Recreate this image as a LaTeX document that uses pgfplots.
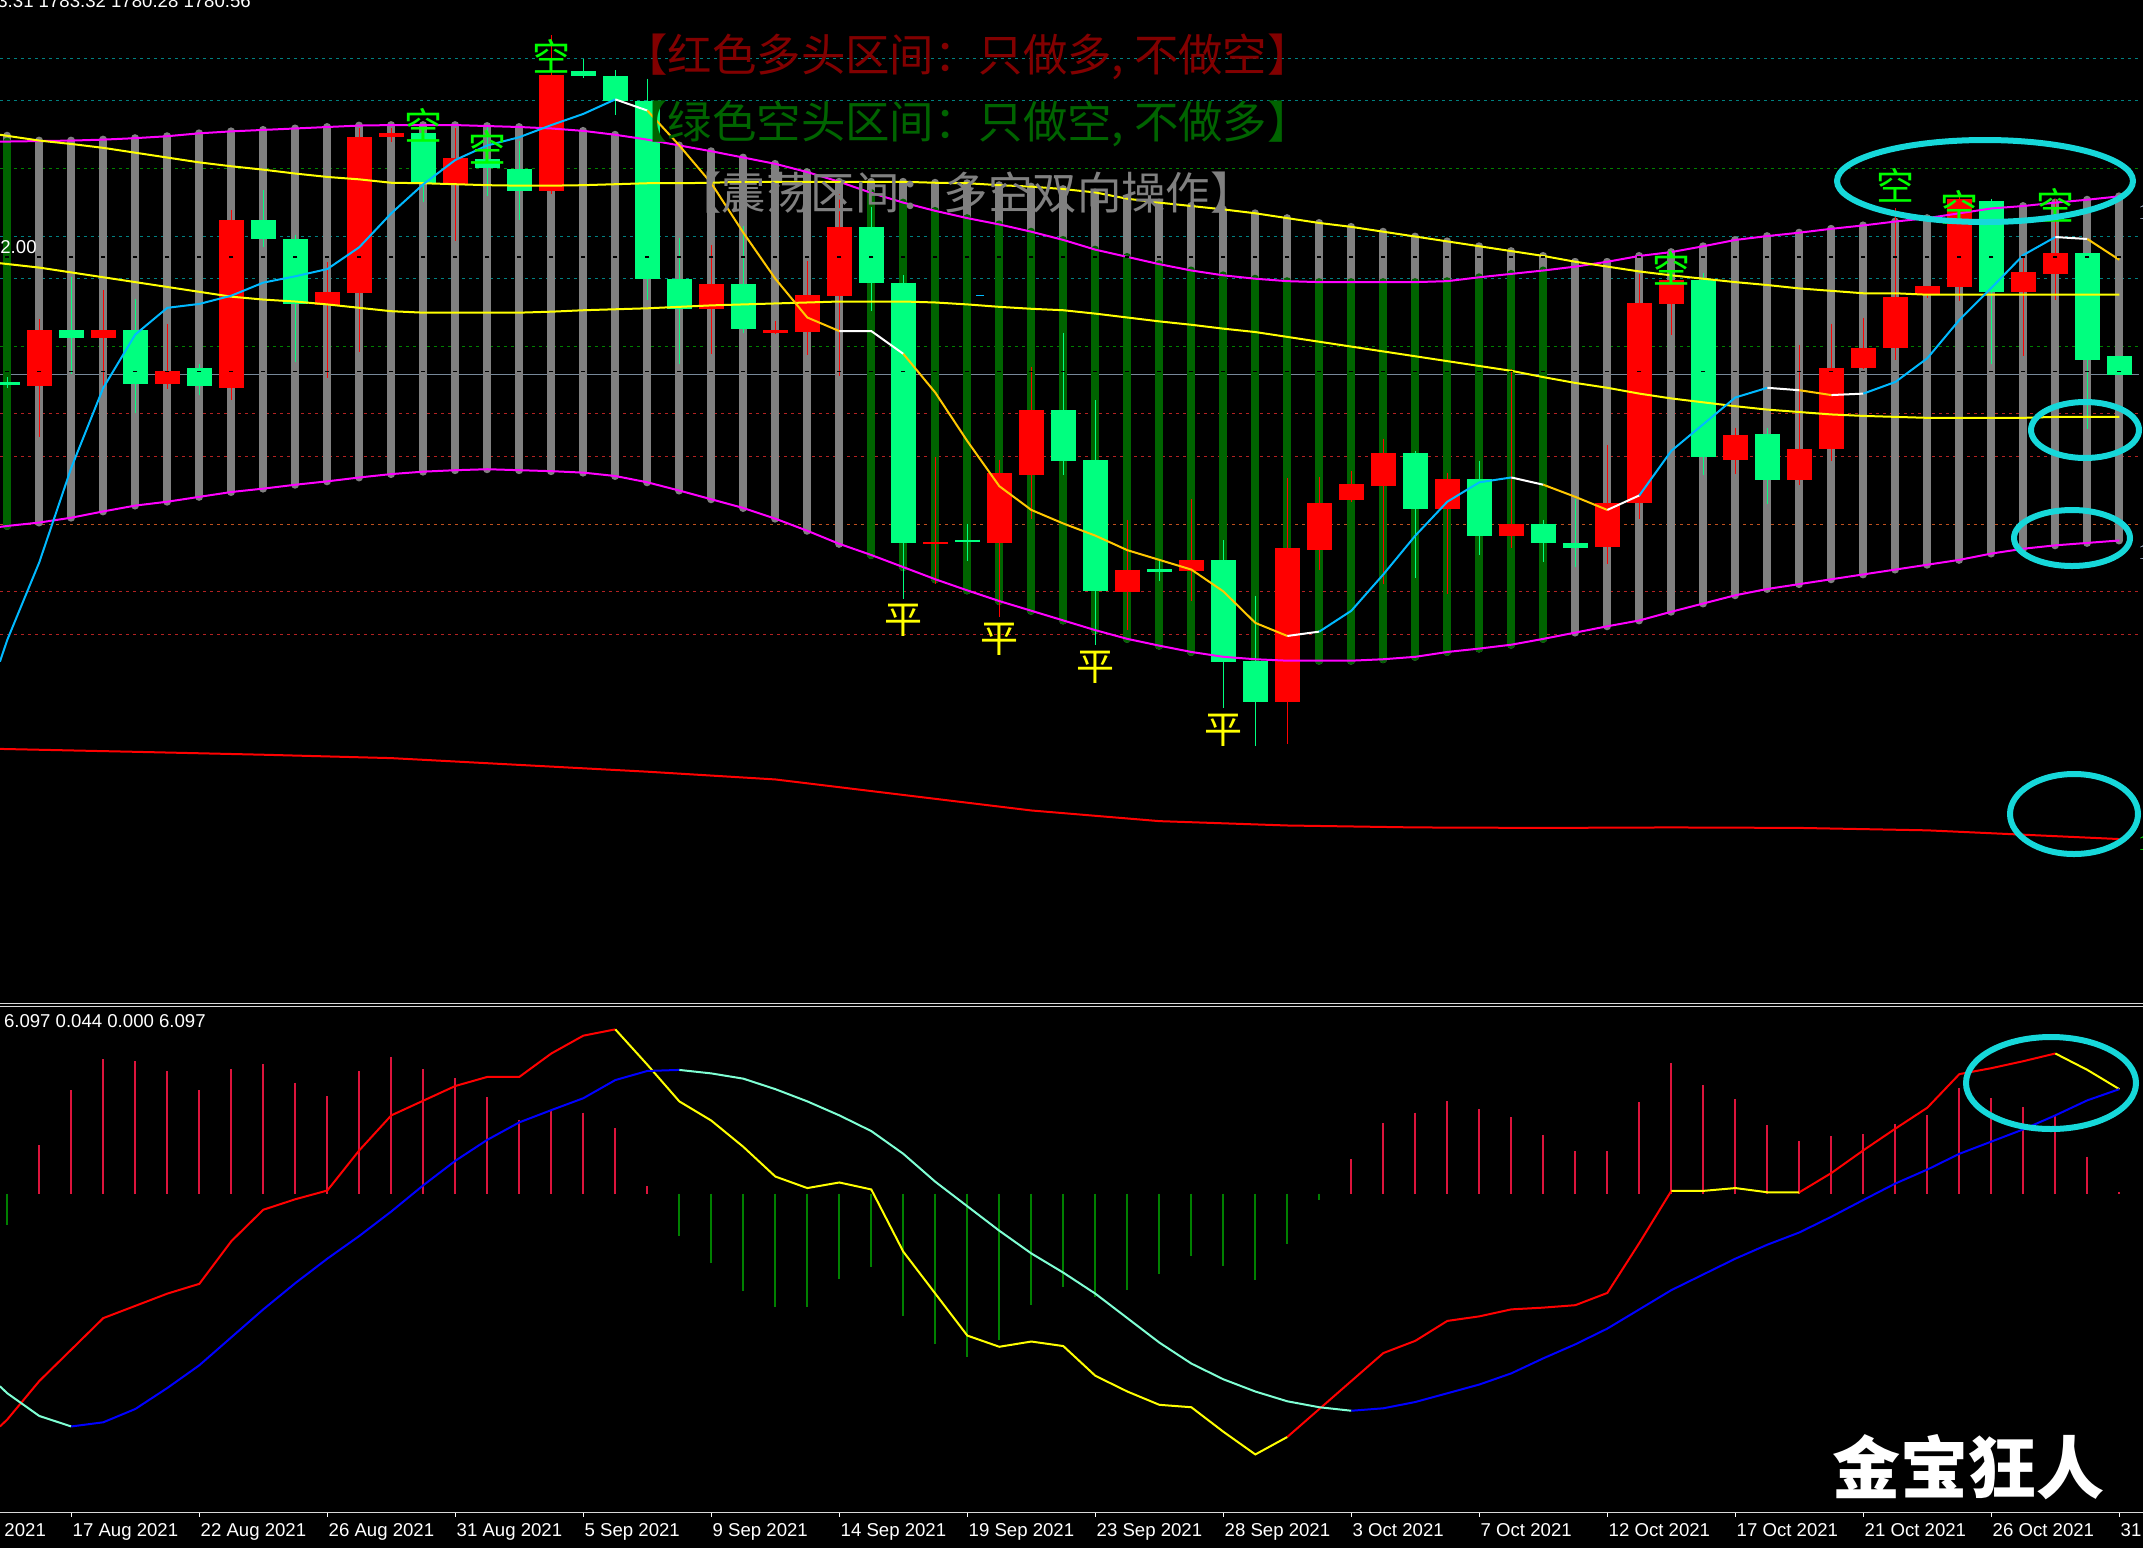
\documentclass[border=0pt]{standalone}
\usepackage{fontspec}
\setmainfont{Liberation Sans}
\newfontfamily\cjk{Noto Sans CJK SC}
\newfontfamily\serif{Liberation Serif}
\usepackage{pgfplots}
\usepackage{pgfplotstable}
\pgfplotsset{compat=1.18}

\definecolor{cRed}{RGB}{255,0,0}
\definecolor{cGrn}{RGB}{0,255,127}
\definecolor{cBar}{RGB}{128,128,128}
\definecolor{cDkG}{RGB}{0,100,0}
\definecolor{cMag}{RGB}{255,0,255}
\definecolor{cYel}{RGB}{255,255,0}
\definecolor{cUp}{RGB}{0,185,255}
\definecolor{cDn}{RGB}{255,200,0}
\definecolor{cTeal}{RGB}{0,128,128}
\definecolor{cGD}{RGB}{0,128,0}
\definecolor{cRD}{RGB}{178,34,34}
\definecolor{cOD}{RGB}{190,80,30}
\definecolor{cSlate}{RGB}{119,136,153}
\definecolor{cCyan}{RGB}{22,216,218}
\definecolor{cHistR}{RGB}{220,20,60}
\definecolor{cHistG}{RGB}{0,128,0}
\definecolor{cAqua}{RGB}{127,255,212}
\definecolor{cBlue}{RGB}{0,0,255}
\definecolor{tRed}{RGB}{130,0,0}
\definecolor{tGrn}{RGB}{0,100,0}
\definecolor{cLab}{RGB}{176,196,222}
\definecolor{cK}{RGB}{0,255,0}

\newcommand\lab{\fontsize{9.3pt}{11pt}\selectfont}

\pgfplotsset{
  vbar/.style 2 args={draw=none, mark=none, error bars/.cd, y dir=plus, y explicit, error mark=none, error bar style={draw=#1, line width=#2, line cap=butt}},
  vbarr/.style 2 args={draw=none, mark=none, error bars/.cd, y dir=plus, y explicit, error mark=none, error bar style={draw=#1, line width=#2, line cap=round}},
}

% ---------- candles (screen-position units) ----------
\pgfplotstableread{
i bt bb wt wb
1 681 796 658 902
3 681 698 598 805
5 765 793 668 803
7 454 801 433 826
10 602 629 541 779
11 283 605 265 727
12 274 283 265 293
14 326 380 265 497
17 155 393 72 400
22 586 638 505 730
24 681 686 663 690
25 609 684 538 732
26 468 610 400 775
29 1118 1123 943 1205
31 976 1120 948 1272
32 846 979 757 1070
35 1175 1222 1072 1300
37 1156 1178 1030 1240
40 1131 1449 987 1535
41 1038 1135 985 1175
42 999 1031 972 1035
43 935 1002 905 1205
45 988 1051 975 1225
47 1080 1105 762 1130
50 1037 1128 918 1163
51 625 1037 565 1070
52 577 627 560 692
54 897 948 882 978
56 926 990 712 1000
57 759 927 668 952
58 717 760 655 762
59 613 718 430 742
60 590 607 590 615
61 410 592 400 620
63 561 602 530 735
64 522 565 410 618
}\redc

\pgfplotstableread{
i bt bb wt wb
0 788 795 778 800
2 681 698 572 772
4 681 793 617 852
6 759 797 750 815
8 454 494 392 510
9 493 628 484 747
13 274 380 262 417
15 328 347 258 404
16 348 393 291 453
18 147 157 122 160
19 157 208 145 238
20 208 575 162 618
21 575 638 490 750
23 586 678 467 686
27 468 583 428 641
28 583 1120 567 1235
30 1113 1118 1080 1158
33 846 950 686 980
34 949 1220 826 1330
36 1174 1179 1158 1198
38 1156 1365 1115 1460
39 1364 1449 1230 1540
44 935 1051 930 1192
46 988 1105 950 1145
48 1080 1120 1072 1160
49 1120 1130 1030 1170
53 577 943 563 980
55 895 990 882 1040
62 415 602 410 750
65 522 742 522 885
66 735 773 735 773
}\grnc

\pgfplotstableread{
i t b
0 280 1085
1 290 1078
2 290 1068
3 288 1055
4 285 1043
5 281 1035
6 275 1025
7 271 1015
8 268 1008
9 265 1000
10 262 993
11 259 985
12 258 978
13 258 973
14 258 970
15 260 968
16 262 970
17 265 972
18 270 975
19 278 982
20 288 995
21 300 1012
22 312 1030
23 325 1048
24 338 1070
25 355 1095
26 375 1122
27 375 1145
28 375 1170
29 377 1195
30 378 1218
31 382 1240
32 385 1260
33 390 1280
34 397 1300
35 410 1318
36 418 1332
37 425 1345
38 432 1355
39 440 1360
40 450 1363
41 460 1363
42 468 1363
43 478 1360
44 488 1355
45 498 1345
46 508 1338
47 518 1330
48 528 1318
49 540 1305
50 540 1292
51 528 1280
52 520 1262
53 508 1245
54 495 1228
55 487 1215
56 480 1205
57 472 1195
58 465 1185
59 457 1175
60 450 1165
61 440 1155
62 430 1142
63 425 1132
64 418 1125
65 412 1120
66 405 1115
}\graybars

\pgfplotstableread{
i t b
0 292 1085
27 398 1145
28 418 1170
29 435 1195
30 450 1218
31 463 1240
32 478 1260
33 495 1280
34 515 1300
35 530 1318
36 545 1332
37 558 1345
38 568 1355
39 575 1360
40 580 1363
41 582 1363
42 582 1363
43 582 1360
44 582 1355
45 580 1345
46 572 1338
47 565 1330
48 558 1318
}\grnbars

% ---------- MACD histogram (zero level at 554) ----------
\pgfplotstableread{
i v
1 415
2 258
3 170
4 175
5 203
6 258
7 197
8 183
9 237
10 275
11 203
12 162
13 197
14 224
15 278
16 342
17 317
18 322
19 366
20 532
42 455
43 352
44 322
45 290
46 312
47 335
48 385
49 432
50 432
51 292
52 180
53 243
54 283
55 358
56 403
57 389
58 383
59 355
60 329
61 252
62 280
63 306
64 332
65 448
66 550
}\histr

\pgfplotstableread{
i v
0 643
21 675
22 752
23 832
24 878
25 878
26 797
27 763
28 903
29 983
30 1020
31 973
32 873
33 820
34 850
35 830
36 783
37 733
38 760
39 800
40 697
41 572
}\histg

\begin{document}
\begin{tikzpicture}
\fill[black] (0pt,0pt) rectangle (1071.5pt,-774pt);
\path[use as bounding box] (0pt,0pt) rectangle (1071.5pt,-774pt);
\clip (0pt,0pt) rectangle (1071.5pt,-774pt);

% ================= upper panel =================
\begin{axis}[at={(0pt,0pt)}, anchor=north west, scale only axis,
  width=1071.5pt, height=502pt, xmin=-0.228, xmax=66.74,
  ymin=0, ymax=2071.3, y dir=reverse, hide axis, clip=true]
% horizontal level lines
\addplot[cTeal, line width=0.5pt, dash pattern=on 1.75pt off 1.75pt] coordinates {(-0.23,120)(66.6,120)};
\addplot[cTeal, line width=0.5pt, dash pattern=on 1.75pt off 1.75pt] coordinates {(-0.23,207)(66.6,207)};
\addplot[cGD, line width=0.5pt, dash pattern=on 1.75pt off 1.75pt] coordinates {(-0.23,348)(66.6,348)};
\addplot[cTeal, line width=0.5pt, dash pattern=on 1.75pt off 1.75pt] coordinates {(-0.23,488)(66.6,488)};
\addplot[cTeal, line width=0.5pt, dash pattern=on 1.75pt off 1.75pt] coordinates {(-0.23,575)(66.6,575)};
\addplot[cGD, line width=0.5pt, dash pattern=on 1.75pt off 1.75pt] coordinates {(-0.23,714)(66.6,714)};
\addplot[cSlate, line width=0.5pt] coordinates {(-0.23,773)(66.6,773)};
\addplot[cRD, line width=0.5pt, dash pattern=on 1.75pt off 1.75pt] coordinates {(-0.23,854)(66.6,854)};
\addplot[cRD, line width=0.5pt, dash pattern=on 1.75pt off 1.75pt] coordinates {(-0.23,941)(66.6,941)};
\addplot[cOD, line width=0.5pt, dash pattern=on 1.75pt off 1.75pt] coordinates {(-0.23,1082)(66.6,1082)};
\addplot[cRD, line width=0.5pt, dash pattern=on 1.75pt off 1.75pt] coordinates {(-0.23,1221)(66.6,1221)};
\addplot[cRD, line width=0.5pt, dash pattern=on 1.75pt off 1.75pt] coordinates {(-0.23,1308)(66.6,1308)};

% band bars
\addplot[vbarr={cBar}{4pt}] table[x=i, y=t, y error plus expr={\thisrow{b}-\thisrow{t}}] {\graybars};
\addplot[vbarr={cDkG}{4pt}] table[x=i, y=t, y error plus expr={\thisrow{b}-\thisrow{t}}] {\grnbars};
\addplot[only marks, mark=-, mark size=1pt, black, line width=0.6pt] table[x=i, y expr=530] {\graybars};
\addplot[only marks, mark=-, mark size=1pt, black, line width=0.6pt] table[x=i, y expr=766] {\graybars};

% candles
\addplot[vbar={cRed}{0.6pt}] table[x=i, y=wt, y error plus expr={\thisrow{wb}-\thisrow{wt}}] {\redc};
\addplot[vbar={cGrn}{0.6pt}] table[x=i, y=wt, y error plus expr={\thisrow{wb}-\thisrow{wt}}] {\grnc};
\addplot[vbar={cRed}{12.5pt}] table[x=i, y=bt, y error plus expr={\thisrow{bb}-\thisrow{bt}}] {\redc};
\addplot[vbar={cGrn}{12.5pt}] table[x=i, y=bt, y error plus expr={\thisrow{bb}-\thisrow{bt}}] {\grnc};

% envelope lines
\addplot[cMag, line width=1pt] coordinates {(-0.23,292)(0,292)(1,291)(2,290)(3,288)(4,285)(5,281)(6,275)(7,271)(8,268)(9,265)(10,262)(11,259)(12,258)(13,258)(14,258)(15,260)(16,262)(17,265)(18,270)(19,278)(20,288)(21,300)(22,312)(23,325)(24,338)(25,355)(26,375)(27,398)(28,418)(29,435)(30,450)(31,463)(32,478)(33,495)(34,515)(35,530)(36,545)(37,558)(38,568)(39,575)(40,580)(41,582)(42,582)(43,582)(44,582)(45,580)(46,572)(47,565)(48,558)(49,550)(50,540)(51,528)(52,520)(53,508)(54,495)(55,487)(56,480)(57,472)(58,465)(59,457)(60,450)(61,440)(62,430)(63,425)(64,418)(65,412)(66,405)};
\addplot[cMag, line width=1pt] coordinates {(-0.23,1087)(0,1085)(1,1078)(2,1068)(3,1055)(4,1043)(5,1035)(6,1025)(7,1015)(8,1008)(9,1000)(10,993)(11,985)(12,978)(13,973)(14,970)(15,968)(16,970)(17,972)(18,975)(19,982)(20,995)(21,1012)(22,1030)(23,1048)(24,1070)(25,1095)(26,1122)(27,1145)(28,1170)(29,1195)(30,1218)(31,1240)(32,1260)(33,1280)(34,1300)(35,1318)(36,1332)(37,1345)(38,1355)(39,1360)(40,1363)(41,1363)(42,1363)(43,1360)(44,1355)(45,1345)(46,1338)(47,1330)(48,1318)(49,1305)(50,1292)(51,1280)(52,1262)(53,1245)(54,1228)(55,1215)(56,1205)(57,1195)(58,1185)(59,1175)(60,1165)(61,1155)(62,1142)(63,1132)(64,1125)(65,1120)(66,1115)};

% moving averages
\addplot[cYel, line width=1pt] coordinates {(-0.23,278)(1,290)(2,297)(3,305)(4,315)(5,325)(6,335)(7,343)(8,350)(9,358)(10,365)(11,370)(12,377)(13,378)(14,380)(15,382)(16,383)(17,383)(18,382)(19,380)(20,378)(21,378)(22,377)(23,375)(24,375)(25,375)(26,375)(27,375)(28,375)(29,377)(30,378)(31,382)(32,385)(33,390)(34,397)(35,410)(36,418)(37,425)(38,432)(39,440)(40,450)(41,460)(42,468)(43,478)(44,488)(45,498)(46,508)(47,518)(48,528)(49,540)(50,550)(51,560)(52,568)(53,575)(54,582)(55,588)(56,595)(57,600)(58,605)(59,605)(60,608)(61,608)(62,608)(63,608)(64,608)(65,608)(66,608)};
\addplot[cYel, line width=1pt] coordinates {(-0.23,543)(1,552)(2,562)(3,572)(4,582)(5,592)(6,602)(7,612)(8,618)(9,622)(10,628)(11,635)(12,642)(13,645)(14,645)(15,645)(16,645)(17,643)(18,640)(19,638)(20,636)(21,633)(22,630)(23,628)(24,626)(25,624)(26,622)(27,622)(28,622)(29,624)(30,628)(31,633)(32,637)(33,640)(34,647)(35,655)(36,663)(37,670)(38,678)(39,685)(40,695)(41,705)(42,715)(43,725)(44,735)(45,745)(46,755)(47,765)(48,778)(49,790)(50,800)(51,812)(52,822)(53,830)(54,838)(55,845)(56,850)(57,855)(58,858)(59,860)(60,862)(61,862)(62,862)(63,862)(64,860)(65,860)(66,860)};
\addplot[cRed, line width=1pt] coordinates {(-0.23,1545)(4,1551)(8,1557)(12,1564)(16,1578)(20,1592)(24,1608)(28,1640)(32,1672)(36,1694)(40,1703)(44,1707)(48,1708)(52,1707)(56,1708)(60,1713)(64,1725)(66,1731)};

% fast line, coloured by direction
\addplot[cUp, line width=1pt] coordinates {(-0.23,1365)(0,1320)(1,1160)(2,965)(3,800)(4,690)(5,635)(6,627)(7,610)(8,583)(9,570)(10,555)(11,510)(12,440)(13,380)(14,330)(15,300)(16,283)(17,258)(18,235)(19,205)};
\addplot[white, line width=1pt] coordinates {(19,205)(20,228)};
\addplot[cDn, line width=1pt] coordinates {(20,228)(21,300)(22,378)(23,480)(24,575)(25,655)(26,683)};
\addplot[white, line width=1pt] coordinates {(26,683)(27,683)(28,730)};
\addplot[cDn, line width=1pt] coordinates {(28,730)(29,810)(30,910)(31,1003)(32,1052)(33,1080)(34,1105)(35,1135)(36,1155)(37,1175)(38,1220)(39,1285)(40,1312)};
\addplot[white, line width=1pt] coordinates {(40,1312)(41,1303)};
\addplot[cUp, line width=1pt] coordinates {(41,1303)(42,1260)(43,1185)(44,1105)(45,1035)(46,995)(47,985)};
\addplot[white, line width=1pt] coordinates {(47,985)(48,1000)};
\addplot[cDn, line width=1pt] coordinates {(48,1000)(49,1025)(50,1052)};
\addplot[white, line width=1pt] coordinates {(50,1052)(51,1022)};
\addplot[cUp, line width=1pt] coordinates {(51,1022)(52,930)(53,875)(54,820)(55,800)};
\addplot[white, line width=1pt] coordinates {(55,800)(56,805)};
\addplot[cDn, line width=1pt] coordinates {(56,805)(57,815)};
\addplot[white, line width=1pt] coordinates {(57,815)(58,812)};
\addplot[cUp, line width=1pt] coordinates {(58,812)(59,788)(60,739)(61,660)(62,594)(63,526)(64,489)};
\addplot[white, line width=1pt] coordinates {(64,489)(65,493)};
\addplot[cDn, line width=1pt] coordinates {(65,493)(66,536)};
\addplot[only marks, mark=-, mark size=2pt, cUp, line width=0.8pt] coordinates {(30.4,610)};
\end{axis}

% ================= MACD panel =================
\begin{axis}[at={(0pt,-503pt)}, anchor=north west, scale only axis,
  width=1071.5pt, height=252pt, xmin=-0.228, xmax=66.74,
  ymin=17.2, ymax=1459, y dir=reverse, hide axis, clip=true]
\addplot[vbar={cHistR}{1pt}] table[x=i, y=v, y error plus expr={554-\thisrow{v}}] {\histr};
\addplot[vbar={cHistG}{1pt}] table[x=i, y expr=554, y error plus expr={\thisrow{v}-554}] {\histg};
% DIF
\addplot[cRed, line width=1pt] coordinates {(-0.23,1220)(0,1200)(1,1090)(2,1000)(3,910)(4,875)(5,840)(6,812)(7,690)(8,600)(9,570)(10,545)(11,430)(12,330)(13,288)(14,246)(15,220)(16,220)(17,153)(18,102)(19,84)};
\addplot[cYel, line width=1pt] coordinates {(19,84)(20,185)(21,290)(22,345)(23,420)(24,505)(25,538)(26,522)(27,542)(28,720)(29,840)(30,960)(31,992)(32,977)(33,990)(34,1075)(35,1120)(36,1158)(37,1165)(38,1235)(39,1300)(40,1250)};
\addplot[cRed, line width=1pt] coordinates {(40,1250)(41,1170)(42,1090)(43,1010)(44,975)(45,918)(46,905)(47,885)(48,880)(49,873)(50,838)(51,695)(52,546)};
\addplot[cYel, line width=1pt] coordinates {(52,546)(53,546)(54,538)(55,550)(56,550)};
\addplot[cRed, line width=1pt] coordinates {(56,550)(57,495)(58,430)(59,368)(60,308)(61,212)(62,195)(63,175)(64,153)};
\addplot[cYel, line width=1pt] coordinates {(64,153)(65,200)(66,255)};
% DEA
\addplot[cAqua, line width=1pt] coordinates {(-0.23,1105)(0,1125)(1,1190)(2,1220)};
\addplot[cBlue, line width=1pt] coordinates {(2,1220)(3,1208)(4,1170)(5,1110)(6,1045)(7,965)(8,885)(9,810)(10,740)(11,675)(12,605)(13,530)(14,460)(15,400)(16,350)(17,315)(18,281)(19,229)(20,203)(21,200)};
\addplot[cAqua, line width=1pt] coordinates {(21,200)(22,210)(23,225)(24,255)(25,290)(26,330)(27,375)(28,440)(29,520)(30,590)(31,660)(32,725)(33,780)(34,840)(35,910)(36,980)(37,1040)(38,1085)(39,1120)(40,1148)(41,1165)(42,1175)};
\addplot[cBlue, line width=1pt] coordinates {(42,1175)(43,1168)(44,1150)(45,1125)(46,1100)(47,1068)(48,1025)(49,985)(50,940)(51,885)(52,830)(53,785)(54,740)(55,700)(56,665)(57,620)(58,572)(59,525)(60,485)(61,440)(62,405)(63,370)(64,330)(65,287)(66,255)};
\end{axis}

% ================= annotations (pixel coordinates) =================
\begin{scope}[x=0.5pt, y=-0.5pt]
\draw[white!85!black, line width=0.5pt] (0,1003) -- (2143,1003);
\draw[white!85!black, line width=0.5pt] (0,1006) -- (2143,1006);
\draw[white!85!black, line width=0.5pt] (0,1512.7) -- (2143,1512.7);

\node[anchor=base west, inner sep=0, text=white, font=\lab] at (-3,7.5) {3.31 1783.32 1780.28 1780.56};
\node[anchor=base west, inner sep=0, text=white, font=\lab] at (0,253) {2.00};
\node[anchor=base west, inner sep=0, text=white, font=\lab] at (3.6,1027.5) {6.097 0.044 0.000 6.097};

\node[anchor=base west, inner sep=0, text=white, font=\lab] at (-60,1536.5) {13 Aug 2021};
\foreach \b/\t in {2/17 Aug 2021, 6/22 Aug 2021, 10/26 Aug 2021, 14/31 Aug 2021, 18/5 Sep 2021, 22/9 Sep 2021, 26/14 Sep 2021, 30/19 Sep 2021, 34/23 Sep 2021, 38/28 Sep 2021, 42/3 Oct 2021, 46/7 Oct 2021, 50/12 Oct 2021, 54/17 Oct 2021, 58/21 Oct 2021, 62/26 Oct 2021, 66/31 Oct 2021}{
  \draw[white, line width=0.5pt] ({7.3+32*\b},1513) -- ({7.3+32*\b},1517);
  \node[anchor=base west, inner sep=0, text=white, font=\lab] at ({7.3+32*\b+1},1536.5) {\t};
}

% titles
\node[anchor=west, inner sep=0, text=tRed, font=\cjk\fontsize{22.2pt}{24pt}\selectfont] at (623,57) {【红色多头区间：只做多, 不做空】};
\node[anchor=west, inner sep=0, text=tGrn, font=\cjk\fontsize{22.2pt}{24pt}\selectfont] at (623,124) {【绿色空头区间：只做空, 不做多】};
\node[anchor=west, inner sep=0, text=cBar, font=\cjk\fontsize{22.2pt}{24pt}\selectfont] at (677,193) {【震荡区间：多空双向操作】};

% signal marks
\foreach \px/\py in {423.3/125, 487.3/147, 551.3/56, 1671/268, 1895/185, 1959/207, 2055/205}{
  \node[inner sep=0, text=cK, font=\cjk\fontsize{19pt}{20pt}\selectfont] at (\px,\py) {空};
}
\foreach \px/\py in {903.3/620, 999.3/639, 1095.3/667, 1223.3/730}{
  \node[inner sep=0, text=cYel, font=\cjk\fontsize{19pt}{20pt}\selectfont] at (\px,\py) {平};
}

% right-edge cut labels
\node[anchor=west, inner sep=0, text=cLab, font=\serif\fontsize{11pt}{11pt}\selectfont] at (2138,212) {1};
\node[anchor=west, inner sep=0, text=cLab, font=\serif\fontsize{11pt}{11pt}\selectfont] at (2138,552) {1};
\node[anchor=west, inner sep=0, text=cK, font=\serif\fontsize{11pt}{11pt}\selectfont] at (2138,843) {1};

% ellipses
\draw[cCyan, line width=3pt] (1985,181) ellipse [x radius=74pt, y radius=20.5pt];
\draw[cCyan, line width=3pt] (2085,430) ellipse [x radius=27pt, y radius=14pt];
\draw[cCyan, line width=3pt] (2072,538) ellipse [x radius=29pt, y radius=14pt];
\draw[cCyan, line width=3pt] (2074,814) ellipse [x radius=32pt, y radius=20pt];
\draw[cCyan, line width=3pt] (2051,1083) ellipse [x radius=42.5pt, y radius=23pt];

% watermark
\node[inner sep=0, text=white, font=\cjk\bfseries\fontsize{34pt}{36pt}\selectfont] at (1968,1467) {金宝狂人};
\end{scope}
\end{tikzpicture}
\end{document}
